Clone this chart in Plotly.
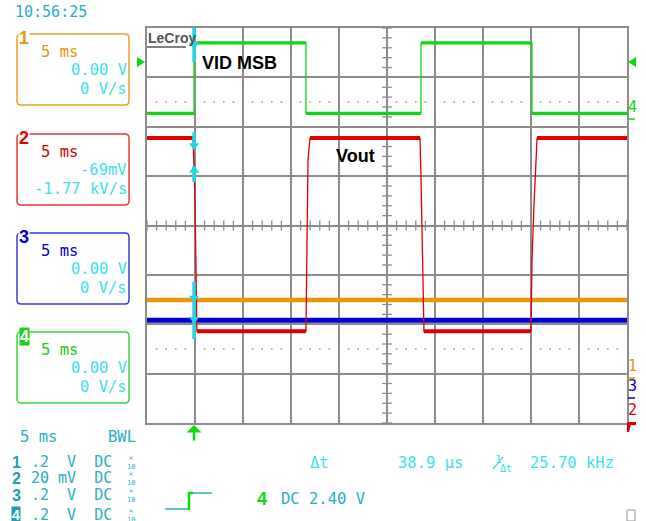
import plotly.graph_objects as go

# ---------------- data (time in ms, level in screen divisions) ----------------
ms_per_div = 5
x_range_ms = [-25, 25]
y_range_div = [-4, 4]

vid_t = [-25.0, -20.1, -20.1, -8.44, -8.44, 3.54, 3.54, 15.1, 15.1, 25.0]
vid_v = [2.27, 2.27, 3.70, 3.70, 2.27, 2.27, 3.70, 3.70, 2.27, 2.27]

vout_t = [-25.0, -20.2, -20.0, -19.9, -19.8, -8.44, -8.33, -8.23, -8.02, 3.44,
          3.54, 3.65, 3.75, 3.85, 15.0, 15.1, 15.31, 15.52, 15.63, 25.0]
vout_v = [1.77, 1.77, 0.52, -1.51, -2.14, -2.14, -0.5, 1.33, 1.77, 1.77,
          1.0, -0.19, -1.31, -2.14, -2.14, -0.74, 0.41, 1.53, 1.77, 1.77]

ch1_t = [-25.0, 25.0]
ch1_v = [-1.51, -1.51]
ch3_t = [-25.0, 25.0]
ch3_v = [-1.92, -1.92]

cursor_t = -20.1
cursor_segments = [(4.0, 3.31), (1.89, 1.56), (1.20, 0.88), (-1.14, -2.30)]
cursor_down = [3.66, 1.62, -1.47, -1.90]
cursor_up = [1.12]

# ---------------- styling ----------------
W, H = 646, 521
L, R, T, B = 147, 627, 28, 423
GRID = "#8c8c8c"
GREEN = "#10d810"
RED = "#e00000"
ORANGE = "#e8960a"
BLUE = "#0000d0"
CYAN = "#22d6e2"
VALC = "#3ee0ea"
TEAL = "#2aaec0"
MONO = "DejaVu Sans Mono"
SANS = "Liberation Sans"


def px(x):
    return (x - L) / (R - L)


def py(y):
    return (B - y) / (B - T)


def flats(t, v):
    xs, ys = [], []
    for i in range(len(t) - 1):
        if v[i] == v[i + 1]:
            xs += [t[i], t[i + 1], None]
            ys += [v[i], v[i + 1], None]
    return xs, ys


fig = go.Figure()

# center-cross ticks and dotted rows
step = ms_per_div / 5
ticks_x = [x_range_ms[0] + k * step for k in range(51)]
ticks_y = [y_range_div[0] + k * 0.2 for k in range(41)]
fig.add_trace(go.Scatter(x=ticks_x, y=[0] * len(ticks_x), mode="markers", hoverinfo="skip",
                         marker=dict(symbol="line-ns", size=7, line=dict(width=1.3, color=GRID))))
fig.add_trace(go.Scatter(x=[0] * len(ticks_y), y=ticks_y, mode="markers", hoverinfo="skip",
                         marker=dict(symbol="line-ew", size=7, line=dict(width=1.3, color=GRID))))
dots_x = [t for i, t in enumerate(ticks_x) if i % 5 != 0]
for yv in (2.5, -2.5):
    fig.add_trace(go.Scatter(x=dots_x, y=[yv] * len(dots_x), mode="markers", hoverinfo="skip",
                             marker=dict(symbol="square", size=1.6, color="#9a9a9a")))

# channel traces
fig.add_trace(go.Scatter(x=ch1_t, y=ch1_v, mode="lines", line=dict(color=ORANGE, width=4.5)))
fig.add_trace(go.Scatter(x=ch3_t, y=ch3_v, mode="lines", line=dict(color=BLUE, width=5)))
fx, fy = flats(vout_t, vout_v)
fig.add_trace(go.Scatter(x=vout_t, y=vout_v, mode="lines", line=dict(color=RED, width=1.3)))
fig.add_trace(go.Scatter(x=fx, y=fy, mode="lines", line=dict(color=RED, width=4)))
gx, gy = flats(vid_t, vid_v)
fig.add_trace(go.Scatter(x=vid_t, y=vid_v, mode="lines", line=dict(color=GREEN, width=1.3)))
fig.add_trace(go.Scatter(x=gx, y=gy, mode="lines", line=dict(color=GREEN, width=3.2)))

# cursor markers
cx, cy = [], []
for a, b in cursor_segments:
    cx += [cursor_t, cursor_t, None]
    cy += [a, b, None]
fig.add_trace(go.Scatter(x=cx, y=cy, mode="lines", line=dict(color=CYAN, width=3.5)))
fig.add_trace(go.Scatter(x=[cursor_t] * len(cursor_down), y=cursor_down, mode="markers",
                         marker=dict(symbol="triangle-down", size=9, color=CYAN)))
fig.add_trace(go.Scatter(x=[cursor_t] * len(cursor_up), y=cursor_up, mode="markers",
                         marker=dict(symbol="triangle-up", size=9, color=CYAN)))

ann = []
shapes = []


def txt(x, y, s, color, size=15.5, anchor="left", family=MONO, bg=None):
    d = dict(xref="paper", yref="paper", x=px(x), y=py(y), text=s, showarrow=False,
             xanchor=anchor, yanchor="middle", font=dict(family=family, size=size, color=color),
             borderpad=0)
    if bg:
        d["bgcolor"] = bg
    ann.append(d)


def path(pts, color, fill=None, width=1.5):
    p = "M " + " L ".join(f"{px(a):.5f},{py(b):.5f}" for a, b in pts)
    if fill:
        p += " Z"
    shapes.append(dict(type="path", xref="paper", yref="paper", path=p,
                       line=dict(color=color, width=width if not fill else 0),
                       fillcolor=fill if fill else None, layer="above"))


def rounded_box(x0, y0, x1, y1, color, r=4):
    def P(a, b):
        return f"{px(a):.5f},{py(b):.5f}"
    p = (f"M {P(x0 + r, y0)} L {P(x1 - r, y0)} Q {P(x1, y0)} {P(x1, y0 + r)} "
         f"L {P(x1, y1 - r)} Q {P(x1, y1)} {P(x1 - r, y1)} L {P(x0 + r, y1)} "
         f"Q {P(x0, y1)} {P(x0, y1 - r)} L {P(x0, y0 + r)} Q {P(x0, y0)} {P(x0 + r, y0)} Z")
    shapes.append(dict(type="path", xref="paper", yref="paper", path=p,
                       line=dict(color=color, width=1.5), layer="above"))


# in-plot labels
txt(239, 63, "<b>VID MSB</b>", "black", size=18, anchor="center", family=SANS)
txt(355, 156, "<b>Vout</b>", "black", size=18, anchor="center", family=SANS)
txt(147, 38, "<b>LeCroy</b>", "#555555", size=14, family=SANS)
path([(147, 47), (186, 47)], "#555555", width=1.5)

# timestamp (partly cut at the top edge, as in the screenshot)
txt(14, 12, "10:56:25", TEAL, size=15)

# channel boxes
boxes = [("1", ORANGE, "#f0a028", "0.00 V", "0 V/s"),
         ("2", RED, "#e83a3a", "-69mV", "-1.77 kV/s"),
         ("3", BLUE, "#3a3ad8", "0.00 V", "0 V/s"),
         ("4", "#22cc22", "#3ad83a", "0.00 V", "0 V/s")]
tops = [34, 134, 233, 332]
for (lab, tc, bc, v1, v2), top in zip(boxes, tops):
    rounded_box(17, top, 129, top + 71, bc)
    txt(40, top + 18, "5 ms", tc)
    txt(128, top + 36, v1, VALC, anchor="right")
    txt(128, top + 55, v2, VALC, anchor="right")
    if lab == "4":
        txt(24, top + 4, "<b>4</b>", "white", size=16, anchor="center", family=SANS, bg="#22cc22")
    else:
        txt(24, top + 4, f"<b>{lab}</b>", tc, size=18, anchor="center", family=SANS, bg="white")

# bottom status area
txt(19, 437, "5 ms", TEAL)
txt(107, 437, "BWL", TEAL)
rows = [("1", ".2  V  DC", 462), ("2", "20 mV  DC", 478), ("3", ".2  V  DC", 495), ("4", ".2  V  DC", 515)]
for lab, s, yy in rows:
    if lab == "4":
        txt(16, yy, "<b>4</b>", "white", size=14, anchor="center", family=SANS, bg="#1aa2b4")
    else:
        txt(16, yy, f"<b>{lab}</b>", "#1aa2b4", size=16, anchor="center", family=SANS)
    txt(30, yy, s, TEAL, size=15)
    txt(131, yy, "×<br>10", TEAL, size=7, anchor="center")

txt(309, 463, "Δt", VALC)
txt(397, 463, "38.9 μs", VALC)
txt(494, 459, "1", VALC, size=11)
path([(493, 469), (503, 457)], VALC, width=1.2)
txt(499, 468, "Δt", VALC, size=10)
txt(529, 463, "25.70 kHz", VALC)
txt(262, 499, "<b>4</b>", GREEN, size=18, anchor="center", family=SANS)
txt(280, 499, "DC 2.40 V", TEAL)

# trigger step icon
path([(165, 509), (188, 509)], TEAL, width=1.5)
path([(189, 510), (189, 493), (193, 493)], GREEN, width=2.5)
path([(193, 493), (212, 493)], TEAL, width=1.5)

# side markers
path([(636, 57), (628, 62), (636, 67)], GREEN, fill=GREEN)
path([(137, 57), (145, 62), (137, 67)], GREEN, fill=GREEN)
txt(632, 107, "4", GREEN, size=15, anchor="center")
path([(628, 119), (635, 119)], GREEN, width=1.5)
txt(632, 366, "1", ORANGE, size=15, anchor="center")
path([(628, 378), (635, 378)], ORANGE, width=1.5)
txt(632, 386, "3", BLUE, size=15, anchor="center")
path([(628, 398), (635, 398)], BLUE, width=1.5)
txt(632, 410, "2", RED, size=15, anchor="center")
path([(627, 422), (636, 422), (636, 425), (631, 425), (629, 432), (627, 432)], RED, fill=RED)
path([(627, 510), (635, 510), (635, 521), (627, 521), (627, 510)], "#999999", width=1)

# trigger position arrow
ann.append(dict(xref="paper", yref="paper", x=px(194), y=py(425), ax=0, ay=17, text="",
                showarrow=True, arrowhead=1, arrowsize=1, arrowwidth=2.5, arrowcolor=GREEN))

axis_common = dict(showgrid=True, gridcolor=GRID, gridwidth=1.5, zeroline=False,
                   showticklabels=False, ticks="", showline=True, mirror=True,
                   linecolor=GRID, linewidth=1.5, fixedrange=True)
fig.update_layout(
    width=W, height=H, autosize=False,
    margin=dict(l=L, r=W - R, t=T, b=H - B, pad=0),
    paper_bgcolor="white", plot_bgcolor="white", showlegend=False,
    xaxis=dict(range=x_range_ms, dtick=ms_per_div, tick0=0, **axis_common),
    yaxis=dict(range=y_range_div, dtick=1, tick0=0, **axis_common),
    annotations=ann, shapes=shapes,
)

fig.write_html("out.html", config={"displayModeBar": False},
               post_script="document.body.style.margin='0';document.body.style.padding='0';"
                           "document.body.style.overflow='hidden';")
